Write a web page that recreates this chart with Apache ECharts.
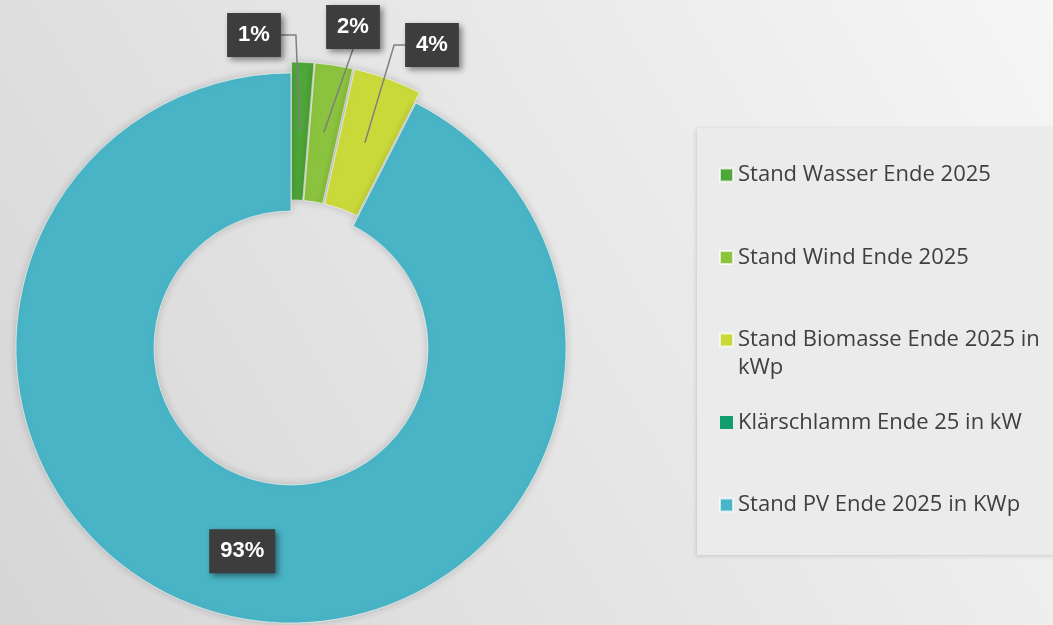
<!DOCTYPE html>
<html>
<head>
<meta charset="utf-8">
<script src="https://cdn.jsdelivr.net/npm/echarts@6/dist/echarts.min.js"></script>
<style>
  html, body { margin: 0; padding: 0; }
  #chart { width: 1053px; height: 625px; }
</style>
</head>
<body>
<div id="chart"></div>
<script>
// Anteile der Energieträger (kW / kWp)
const categories = [
  'Stand Wasser Ende 2025',
  'Stand Wind Ende 2025',
  'Stand Biomasse Ende 2025 in kWp',
  'Klärschlamm Ende 25 in kW',
  'Stand PV Ende 2025 in KWp',
];
const values = [1300, 2200, 4000, 0, 92500];
const exploded = [true, true, true, false, false];
const colors = ['#4ea738', '#8bc23e', '#cad93a', '#129d70', '#49b4c5'];

// Lage der Beschriftungskästen (Mittelpunkt) und Seite, an der die Linie ansetzt
const labelBoxes = {
  0: { x: 254, y: 35, side: 'right' },
  1: { x: 353, y: 27, side: 'bottom' },
  2: { x: 432, y: 45, side: 'left' },
};

const CENTER = [291, 348];
const FONT = '"Open Sans", "Noto Sans", sans-serif';

const pct = (p) => Math.round(p.percent) + '%';

const boxLabel = {
  color: '#fff',
  fontFamily: '"Liberation Sans", Arial, sans-serif',
  fontWeight: 'bold',
  fontSize: 22,
  lineHeight: 24,
  backgroundColor: '#3d3d3d',
  padding: [10, 11],
  shadowColor: 'rgba(0,0,0,0.45)',
  shadowBlur: 6,
  shadowOffsetX: 3,
  shadowOffsetY: 3,
};

const mainData = categories.map((name, i) => ({
  name,
  value: values[i],
  selected: exploded[i],
  itemStyle: { color: colors[i], borderWidth: values[i] ? 0.8 : 0 },
  label: { show: i === 4 },
}));

const helperData = categories.map((name, i) => ({
  name,
  value: values[i],
  label: { show: i < 3 && values[i] > 0 },
  labelLine: { show: i < 3 && values[i] > 0 },
}));

const chart = echarts.init(document.getElementById('chart'));

const option = {
  animation: false,
  backgroundColor: new echarts.graphic.LinearGradient(1, 0, 0, 1, [
    { offset: 0, color: '#f6f6f6' },
    { offset: 1, color: '#d6d6d6' },
  ]),
  color: colors,
  graphic: [
    {
      type: 'rect',
      z: 0,
      shape: { x: 697, y: 128, width: 360, height: 427 },
      style: {
        fill: '#ebebeb',
        shadowColor: 'rgba(0,0,0,0.14)',
        shadowBlur: 4,
        shadowOffsetX: -1,
        shadowOffsetY: 1,
      },
    },
  ],
  legend: {
    orient: 'vertical',
    left: 719,
    top: 133,
    padding: 0,
    itemWidth: 13,
    itemHeight: 13,
    itemGap: -1.5,
    selectedMode: false,
    icon: 'rect',
    textStyle: { color: '#3f3f3f', fontSize: 22, lineHeight: 28, fontFamily: FONT },
    // jede Zeile mittig zum Symbol: Leerzeile oben, Umbruch unten
    formatter: (name) => '\n' + name.replace(' kWp', '\nkWp') + (name.indexOf(' kWp') < 0 ? '\n' : ''),
    data: categories,
  },
  series: [
    {
      name: 'Anteile',
      type: 'pie',
      center: CENTER,
      radius: [137, 275],
      startAngle: 90,
      selectedMode: 'multiple',
      selectedOffset: 11,
      avoidLabelOverlap: false,
      itemStyle: {
        borderColor: 'rgba(255,255,255,0.7)',
        shadowColor: 'rgba(0,0,0,0.18)',
        shadowBlur: 8,
      },
      emphasis: { disabled: true },
      label: { position: 'inside', formatter: pct, ...boxLabel },
      labelLine: { show: false },
      data: mainData,
    },
    {
      name: 'Beschriftung',
      type: 'pie',
      z: 5,
      center: CENTER,
      radius: [0, 218],
      startAngle: 90,
      silent: true,
      avoidLabelOverlap: false,
      itemStyle: { color: 'rgba(0,0,0,0)' },
      emphasis: { disabled: true },
      label: { position: 'outside', formatter: pct, ...boxLabel },
      labelLine: { length: 10, length2: 10, lineStyle: { color: '#7f7f7f', width: 1.5 } },
      labelLayout: (params) => {
        const box = labelBoxes[params.dataIndex];
        if (!box || !params.labelLinePoints) return {};
        const w = params.labelRect.width;
        const h = params.labelRect.height;
        const start = params.labelLinePoints[0];
        let bend;
        let end;
        if (box.side === 'right') {
          end = [box.x + w / 2, box.y];
          bend = [end[0] + 15, box.y];
        } else if (box.side === 'left') {
          end = [box.x - w / 2, box.y];
          bend = [end[0] - 11, box.y];
        } else {
          end = [box.x, box.y + h / 2];
          bend = end;
        }
        return {
          x: box.x,
          y: box.y,
          align: 'center',
          verticalAlign: 'middle',
          labelLinePoints: [start, bend, end],
        };
      },
      data: helperData,
    },
  ],
};

chart.setOption(option);
</script>
</body>
</html>
